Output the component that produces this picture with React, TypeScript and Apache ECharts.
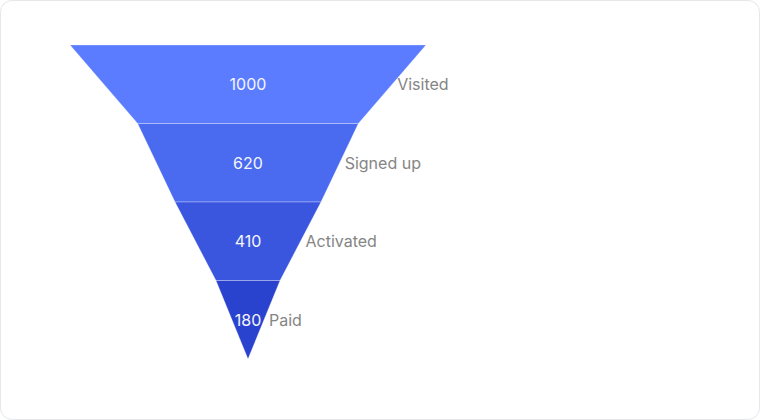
import { useEffect, useRef } from "react";
import * as echarts from "echarts";

const stages = ["Visited", "Signed up", "Activated", "Paid"];
const counts = [1000, 620, 410, 180];
const stageColors = ["#5b7cff", "#4a6aef", "#3a56df", "#2a43cf"];

const App = () => {
  const chartRef = useRef<HTMLDivElement>(null);

  useEffect(() => {
    document.body.style.margin = "0";
    const chart = echarts.init(chartRef.current, null, { renderer: "svg" });
    const data = stages.map((name, i) => ({
      name,
      value: counts[i],
      itemStyle: { color: stageColors[i] },
    }));
    const common = {
      type: "funnel" as const,
      left: 70,
      top: 45,
      width: 356,
      height: 314,
      min: 0,
      max: 1000,
      minSize: "0%",
      maxSize: "100%",
      sort: "descending" as const,
      gap: 0,
    };
    chart.setOption({
      animation: false,
      series: [
        {
          ...common,
          itemStyle: { borderColor: "rgba(255,255,255,0.3)", borderWidth: 1 },
          label: {
            show: true,
            position: "inside",
            formatter: "{c}",
            color: "#f4f6ff",
            fontFamily: "Inter",
            fontSize: 16,
          },
          labelLine: { show: false },
          data,
        },
        {
          ...common,
          silent: true,
          itemStyle: { color: "transparent", borderWidth: 0 },
          label: {
            show: true,
            position: "right",
            formatter: "{b}",
            color: "#858585",
            fontFamily: "Inter",
            fontSize: 16,
          },
          labelLine: { show: false, length: 0 },
          data: stages.map((name, i) => ({ name, value: counts[i] })),
        },
      ],
    });
    return () => {
      chart.dispose();
    };
  }, []);

  return (
    <div style={{ position: "relative", width: 760, height: 420, background: "#fff" }}>
      <div
        style={{
          position: "absolute",
          left: 0,
          top: 0,
          width: 760,
          height: 420,
          boxSizing: "border-box",
          border: "1px solid #e5e7eb",
          borderRadius: 12,
        }}
      />
      <div ref={chartRef} style={{ position: "absolute", left: 0, top: 0, width: 760, height: 420 }} />
    </div>
  );
};

export default App;
